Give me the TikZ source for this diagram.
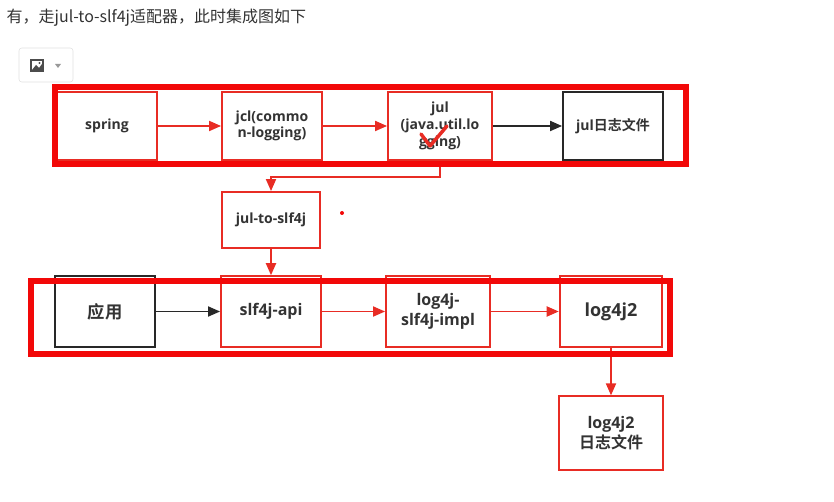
\documentclass[tikz,border=0pt]{standalone}
\usepackage{fontspec}
\setmainfont{Open Sans}
\newfontfamily\cjk{Noto Sans CJK SC}[BoldFont={Noto Sans CJK SC Bold}]
\usetikzlibrary{arrows.meta}
\definecolor{boxred}{RGB}{232,44,36}
\definecolor{framered}{RGB}{242,8,8}
\definecolor{textgray}{RGB}{51,51,51}
\definecolor{linegray}{RGB}{40,40,40}
\tikzstyle{redbox} = [
    rectangle,
    minimum width=75pt,
    minimum height=51pt,
    draw=boxred,
    line width=1.4pt,
    fill=white,
    text=textgray,
    align=center,
    font=\bfseries\fontsize{10.5}{12.5}\selectfont
]
\tikzstyle{blackbox} = [
    redbox,
    draw=linegray
]
\tikzstyle{lowbox} = [
    redbox,
    minimum height=53pt,
    font=\bfseries\fontsize{12}{14.5}\selectfont
]
\tikzstyle{frame} = [
    draw=framered,
    line width=3.8pt
]
\tikzstyle{redarrow} = [draw=boxred,line width=1.4pt,-{Triangle[length=9pt,width=7.5pt]}]
\tikzstyle{blackarrow} = [draw=linegray,line width=1.4pt,-{Triangle[length=9pt,width=7.5pt]}]

\begin{document}
\begin{tikzpicture}[x=0.75pt,y=-0.75pt]
\useasboundingbox (0,0) rectangle (834,502);

% heading
\node (title) [anchor=west, text=textgray, font=\cjk\fontsize{12}{14}\selectfont]
at (2,18) {有，走jul-to-slf4j适配器，此时集成图如下};

% picture button
\draw [draw=black!12, rounded corners=2pt, fill=white] (19,48) rectangle (73,82);
\fill [black!70] (30,59) rectangle (44,72);
\fill [white] (32,61) rectangle (42,70);
\fill [black!70] (32,70) -- (36,65) -- (39,68) -- (42,64) -- (42,70) -- cycle;
\fill [black!70] (39.5,63) circle (1.2);
\fill [black!40] (55,64) -- (61,64) -- (58,68) -- cycle;

% upper row
\node (spring) [redbox] at (107,126) {spring};
\node (jcl) [redbox] at (272,126) {jcl(commo\\n-logging)};
\node (jul) [redbox, minimum width=78pt] at (440,126) {jul\\(java.util.lo\\gging)};
\node (jullog) [blackbox] at (613,126) {jul{\cjk 日志文件}};

\draw [boxred, line width=2.6pt, line cap=round, line join=round]
(421,134) -- (430,146) -- (447,126);

\draw [redarrow] (spring) -- (jcl);
\draw [redarrow] (jcl) -- (jul);
\draw [blackarrow] (jul) -- (jullog);

% bridge
\node (julslf) [redbox, minimum width=74pt, minimum height=42pt] at (271,220) {jul-to-slf4j};
\draw [redarrow] (jul.south) -- ++(0,16) -| (julslf.north);
\fill [framered] (342,213) circle (2);

% lower row
\node (app) [lowbox, draw=linegray, font=\cjk\bfseries\fontsize{13}{15}\selectfont] at (105,311.5) {应用};
\node (slfapi) [lowbox] at (271,311.5) {slf4j-api};
\node (impl) [lowbox, minimum width=78pt] at (438,311.5) {log4j-\\slf4j-impl};
\node (logtwo) [lowbox, minimum width=77pt, font=\bfseries\fontsize{13.5}{15}\selectfont] at (611,311.5) {log4j2};
\node (logtwofile) [lowbox, minimum width=78pt, minimum height=55pt] at (611,433) {log4j2\\{\cjk 日志文件}};

\draw [redarrow] (julslf) -- (slfapi);
\draw [blackarrow] (app) -- (slfapi);
\draw [redarrow] (slfapi) -- (impl);
\draw [redarrow] (impl) -- (logtwo);
\draw [redarrow] (logtwo) -- (logtwofile);

% red frames
\draw [frame] (55,87) rectangle (686,164);
\draw [frame] (31,281) rectangle (670,354);

\end{tikzpicture}
\end{document}
